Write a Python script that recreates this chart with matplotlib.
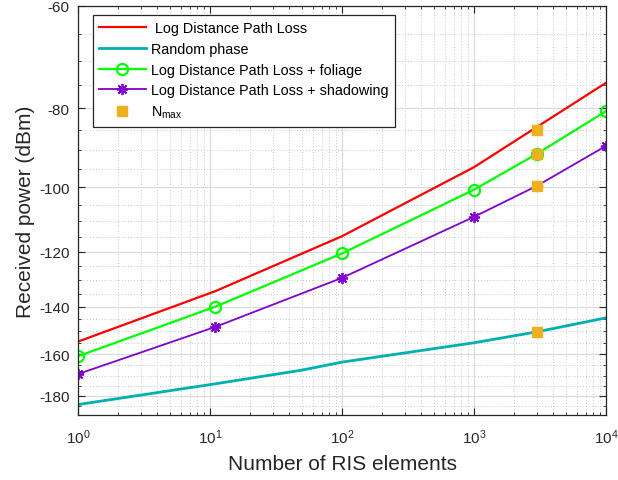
import numpy as np
import matplotlib
matplotlib.use("Agg")
import matplotlib.pyplot as plt
from matplotlib.ticker import FixedLocator, LogLocator, NullFormatter

plt.rcParams['font.family'] = ['Liberation Sans', 'DejaVu Sans']
plt.rcParams['mathtext.fontset'] = 'custom'
plt.rcParams['mathtext.rm'] = 'Liberation Sans'
plt.rcParams['mathtext.it'] = 'Liberation Sans'

# data
n_ldpl = [1, 11, 100, 1000, 10000]
p_ldpl = [-154.5, -134, -114.8, -94.5, -74.5]

n_rand = [1, 11, 50, 100, 1000, 3000, 10000]
p_rand = [-184.5, -174, -167.4, -163.7, -155, -150.3, -144.5]

n_fol = [1, 11, 100, 1000, 3000, 10000]
p_fol = [-161, -140, -120.5, -100.7, -91, -80.7]

n_shad = [1, 11, 100, 1000, 3000, 10000]
p_shad = [-169.3, -148.2, -129.1, -108.7, -99.6, -89]

n_max = [3000, 3000, 3000, 3000]
p_max = [-85, -91, -99.6, -150.3]

fig = plt.figure(figsize=(6.18, 4.81), dpi=100)
ax = fig.add_axes([78/618, 1-416/481, 528/618, 409/481])

ax.set_xscale('log')
# negative values on a log axis (like MATLAB)
ax.set_yscale('function', functions=(lambda v: -np.log10(-np.asarray(v)),
                                     lambda u: -10**(-np.asarray(u))))

ax.plot(n_ldpl, p_ldpl, color='#ff0000', lw=1.6, label=' Log Distance Path Loss')
ax.plot(n_rand, p_rand, color='#00b0b0', lw=2.0, label='Random phase')
ax.plot(n_fol, p_fol, color='#00ff00', lw=1.6, marker='o', ms=8, mfc='none',
        mew=1.6, label='Log Distance Path Loss + foliage')
ax.plot(n_shad, p_shad, color='#8000d0', lw=1.3, marker=(8, 2, 0), ms=8,
        mew=1.3, label='Log Distance Path Loss + shadowing')
ax.plot(n_max, p_max, ls='none', marker='s', ms=7, color='#edb120',
        label='N$_{\\mathrm{max}}$', zorder=5)

ax.set_xlim(1, 1e4)
ax.set_ylim(-190, -60)

ax.yaxis.set_major_locator(FixedLocator([-180, -160, -140, -120, -100, -80, -60]))
ax.yaxis.set_minor_locator(FixedLocator([v for v in range(-190, -60, 5) if v % 20 != 0]))
ax.yaxis.set_major_formatter(plt.FuncFormatter(lambda v, p: '%d' % v))
ax.yaxis.set_minor_formatter(NullFormatter())
ax.xaxis.set_major_locator(LogLocator(base=10, numticks=10))
ax.xaxis.set_minor_locator(LogLocator(base=10, subs=np.arange(2, 10), numticks=20))
ax.xaxis.set_minor_formatter(NullFormatter())

ax.grid(which='major', color='#dcdcdc', lw=0.9, ls='-')
ax.grid(which='minor', color='#c8c8c8', lw=0.7, ls=(0, (1, 2)))
ax.set_axisbelow(True)

ax.tick_params(which='both', direction='in', top=True, right=True, colors='#262626')
ax.tick_params(which='major', length=5, labelsize=11, pad=6)
ax.tick_params(which='minor', length=2.5)
ax.tick_params(axis='x', which='major', pad=9)
for s in ax.spines.values():
    s.set_color('#262626')
    s.set_linewidth(0.9)

ax.set_xlabel('Number of RIS elements', fontsize=15, color='#262626', labelpad=6)
ax.set_ylabel('Received power (dBm)', fontsize=15, color='#262626', labelpad=3)

leg = ax.legend(loc='upper left', bbox_to_anchor=(0.028, 0.978), borderaxespad=0,
                fontsize=10.4, handlelength=3.2, handletextpad=0.35, fancybox=False,
                framealpha=1, edgecolor='#262626', labelspacing=0.46, borderpad=0.45)
leg.get_frame().set_linewidth(0.9)

fig.savefig('out.png', dpi=100)
